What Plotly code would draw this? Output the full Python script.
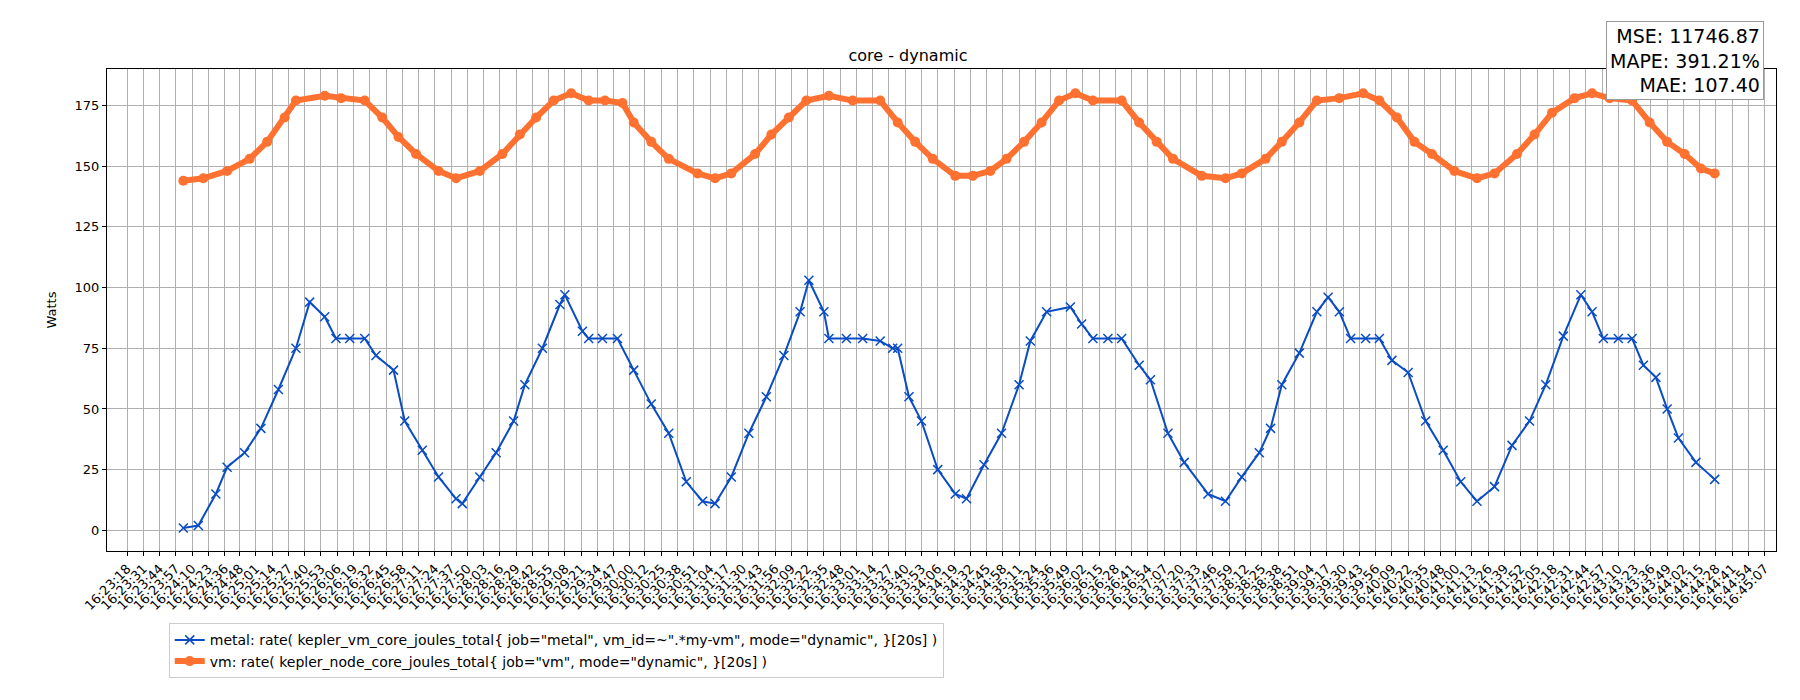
import plotly.graph_objects as go

# tick labels (one every ~13 s)
tick_labels = ["16:23:18", "16:23:31", "16:23:44", "16:23:57", "16:24:10", "16:24:23", "16:24:36", "16:24:48",
               "16:25:01", "16:25:14", "16:25:27", "16:25:40", "16:25:53", "16:26:06", "16:26:19", "16:26:32",
               "16:26:45", "16:26:58", "16:27:11", "16:27:24", "16:27:37", "16:27:50", "16:28:03", "16:28:16",
               "16:28:29", "16:28:42", "16:28:55", "16:29:08", "16:29:21", "16:29:34", "16:29:47", "16:30:00",
               "16:30:12", "16:30:25", "16:30:38", "16:30:51", "16:31:04", "16:31:17", "16:31:30", "16:31:43",
               "16:31:56", "16:32:09", "16:32:22", "16:32:35", "16:32:48", "16:33:01", "16:33:14", "16:33:27",
               "16:33:40", "16:33:53", "16:34:06", "16:34:19", "16:34:32", "16:34:45", "16:34:58", "16:35:11",
               "16:35:24", "16:35:36", "16:35:49", "16:36:02", "16:36:15", "16:36:28", "16:36:41", "16:36:54",
               "16:37:07", "16:37:20", "16:37:33", "16:37:46", "16:37:59", "16:38:12", "16:38:25", "16:38:38",
               "16:38:51", "16:39:04", "16:39:17", "16:39:30", "16:39:43", "16:39:56", "16:40:09", "16:40:22",
               "16:40:35", "16:40:48", "16:41:00", "16:41:13", "16:41:26", "16:41:39", "16:41:52", "16:42:05",
               "16:42:18", "16:42:31", "16:42:44", "16:42:57", "16:43:10", "16:43:23", "16:43:36", "16:43:49",
               "16:44:02", "16:44:15", "16:44:28", "16:44:41", "16:44:54", "16:45:07"]

# seconds since 16:23:18
metal_t = [45, 57, 71, 80, 94, 107, 121, 135, 146, 158, 167, 178, 190, 199, 213, 222, 236, 249, 263, 268,
           282, 295, 309, 318, 332, 346, 350, 364, 369, 380, 392, 405, 419, 433, 447, 460, 470, 483, 497, 511,
           525, 538, 545, 557, 561, 575, 588, 602, 612, 616, 625, 635, 648, 662, 671, 685, 699, 713, 722, 735,
           754, 763, 772, 784, 795, 809, 818, 832, 845, 864, 878, 891, 905, 914, 923, 937, 951, 960, 969, 978,
           990, 1001, 1011, 1024, 1038, 1052, 1066, 1079, 1093, 1107, 1121, 1134, 1148, 1162, 1171, 1180, 1192,
           1203, 1212, 1222, 1231, 1240, 1254, 1269]
metal_w = [1, 2, 15, 26, 32, 42, 58, 75, 94, 88, 79, 79, 79, 72, 66, 45, 33, 22, 13, 11,
           22, 32, 45, 60, 75, 93, 97, 82, 79, 79, 79, 66, 52, 40, 20, 12, 11, 22, 40, 55,
           72, 90, 103, 90, 79, 79, 79, 78, 75, 75, 55, 45, 25, 15, 13, 27, 40, 60, 78, 90,
           92, 85, 79, 79, 79, 68, 62, 40, 28, 15, 12, 22, 32, 42, 60, 73, 90, 96, 90, 79,
           79, 79, 70, 65, 45, 33, 20, 12, 18, 35, 45, 60, 80, 97, 90, 79, 79,
           79, 68, 63, 50, 38, 28, 21]

vm_t = [45, 61, 80, 98, 112, 126, 135, 158, 171, 190, 204, 217, 231, 249, 263, 282, 300, 314, 327, 341,
        355, 369, 382, 396, 405, 419, 433, 456, 470, 483, 502, 515, 529, 543, 561, 580, 602, 616, 630, 644,
        662, 676, 690, 703, 717, 731, 745, 758, 772, 795, 809, 823, 836, 859, 878, 891, 910, 923, 937, 951,
        969, 988, 1001, 1015, 1029, 1043, 1061, 1079, 1093, 1111, 1125, 1139, 1157, 1171, 1185, 1203, 1217,
        1231, 1245, 1258, 1269]
vm_w = [144, 145, 148, 153, 160, 170, 177, 179, 178, 177, 170, 162, 155, 148, 145, 148, 155, 163, 170, 177,
        180, 177, 177, 176, 168, 160, 153, 147, 145, 147, 155, 163, 170, 177, 179, 177, 177, 168, 160, 153,
        146, 146, 148, 153, 160, 168, 177, 180, 177, 177, 168, 160, 153, 146, 145, 147, 153, 160, 168, 177,
        178, 180, 177, 170, 160, 155, 148, 145, 147, 155, 163, 172, 178, 180, 178, 177, 168,
        160, 155, 149, 147]


def to_sec(label):
    h, m, s = map(int, label.split(":"))
    return (h * 3600 + m * 60 + s) - (16 * 3600 + 23 * 60 + 18)


tick_vals = [to_sec(t) for t in tick_labels]

fig = go.Figure()
fig.add_trace(go.Scatter(
    x=metal_t, y=metal_w, mode="lines+markers",
    name='metal: rate( kepler_vm_core_joules_total{ job="metal", vm_id=~".*my-vm", mode="dynamic", }[20s] )',
    line=dict(color="#0a4cc4", width=2),
    marker=dict(symbol="x-thin", size=9, line=dict(color="#0a4cc4", width=1.5)),
))
fig.add_trace(go.Scatter(
    x=vm_t, y=vm_w, mode="lines+markers",
    name='vm: rate( kepler_node_core_joules_total{ job="vm", mode="dynamic", }[20s] )',
    line=dict(color="#ff7130", width=6),
    marker=dict(symbol="circle", size=10, color="#ff7130"),
))

axis_common = dict(showline=True, linecolor="black", linewidth=1, mirror=True,
                   showgrid=True, gridcolor="#b0b0b0", gridwidth=1,
                   ticks="outside", ticklen=4, tickcolor="black", zeroline=False,
                   tickfont=dict(family="DejaVu Sans", size=13, color="black"))

fig.update_layout(
    width=1800, height=700,
    paper_bgcolor="white", plot_bgcolor="white",
    margin=dict(l=99, r=32, t=61, b=157),
    font=dict(family="DejaVu Sans", color="black"),
    title=dict(text="core - dynamic", x=0.5, xanchor="center", y=0.925, yanchor="bottom",
               font=dict(size=16)),
    xaxis=dict(axis_common, range=[-16, 1318], tickvals=tick_vals, ticktext=tick_labels,
               tickangle=-45),
    yaxis=dict(axis_common, range=[-8.5, 190], tickvals=[0, 25, 50, 75, 100, 125, 150, 175],
               title=dict(text="Watts", font=dict(size=13)), tickfont=dict(size=13)),
    legend=dict(x=0.037, y=-0.15, xanchor="left", yanchor="top",
                bordercolor="#cccccc", borderwidth=1, font=dict(size=14)),
    showlegend=True,
)

fig.add_annotation(
    xref="paper", yref="paper", x=0.993, y=1.1, xanchor="right", yanchor="top",
    text="MSE: 11746.87<br>MAPE: 391.21%<br>MAE: 107.40", align="right", showarrow=False,
    font=dict(size=19), bordercolor="#999999", borderwidth=1, borderpad=3, bgcolor="white",
)

fig.write_html("out.html")
